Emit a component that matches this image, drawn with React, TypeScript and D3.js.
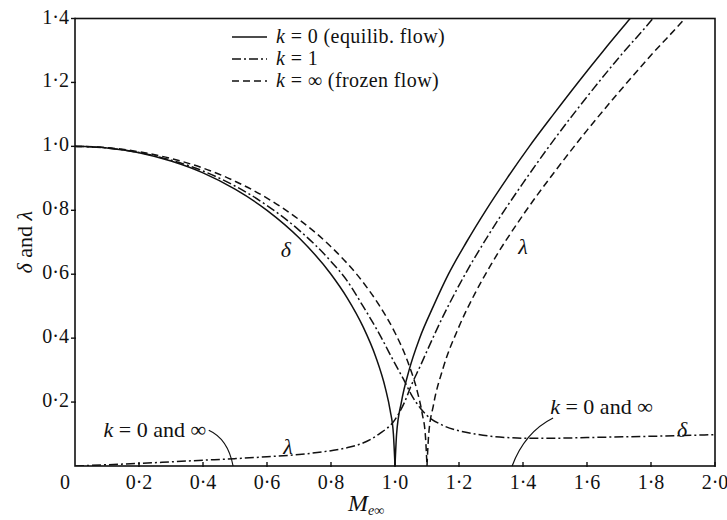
import React from "react";
import * as d3 from "d3";

const W = 727;
const H = 520;
const plot = { left: 75, right: 715, top: 18.5, bottom: 466 };

const xTicks = [0.2, 0.4, 0.6, 0.8, 1.0, 1.2, 1.4, 1.6, 1.8, 2.0];
const xTickLabels = ["0·2", "0·4", "0·6", "0·8", "1·0", "1·2", "1·4", "1·6", "1·8", "2·0"];
const yTicks = [0.2, 0.4, 0.6, 0.8, 1.0, 1.2, 1.4];
const yTickLabels = ["0·2", "0·4", "0·6", "0·8", "1·0", "1·2", "1·4"];

// k = 0 (equilibrium flow)
const deltaK0: [number, number][] = [
  [0, 1.0], [0.1, 0.995], [0.2, 0.98], [0.3, 0.954], [0.4, 0.917], [0.5, 0.866],
  [0.6, 0.8], [0.7, 0.714], [0.8, 0.6], [0.85, 0.527], [0.9, 0.436], [0.94, 0.341],
  [0.97, 0.243], [0.985, 0.173], [0.995, 0.1], [1.0, 0],
];
const lambdaK0: [number, number][] = [
  [1.0, 0], [1.005, 0.1], [1.02, 0.2], [1.044, 0.3], [1.077, 0.4], [1.12, 0.5],
  [1.167, 0.6], [1.223, 0.7], [1.284, 0.8], [1.35, 0.9], [1.42, 1.0], [1.495, 1.1],
  [1.572, 1.2], [1.652, 1.3], [1.735, 1.4], [1.76, 1.43],
];

// k = 1
const deltaK1: [number, number][] = [
  [0, 1.0], [0.1, 0.995], [0.2, 0.981], [0.3, 0.957], [0.4, 0.923], [0.5, 0.876],
  [0.6, 0.815], [0.7, 0.738], [0.8, 0.64], [0.85, 0.58], [0.9, 0.5], [0.95, 0.415],
  [1.0, 0.32], [1.03, 0.265], [1.05, 0.225], [1.08, 0.18], [1.1, 0.158], [1.15, 0.127],
  [1.2, 0.11], [1.25, 0.1], [1.3, 0.093], [1.35, 0.089], [1.4, 0.087], [1.5, 0.087],
  [1.6, 0.089], [1.8, 0.093], [2.0, 0.098],
];
const lambdaK1: [number, number][] = [
  [0, 0], [0.1, 0.004], [0.2, 0.008], [0.3, 0.013], [0.4, 0.018], [0.5, 0.023],
  [0.6, 0.029], [0.7, 0.036], [0.8, 0.048], [0.85, 0.057], [0.9, 0.072], [0.95, 0.1],
  [1.0, 0.145], [1.03, 0.2], [1.05, 0.25], [1.08, 0.315], [1.1, 0.36], [1.15, 0.468],
  [1.2, 0.565], [1.3, 0.735], [1.4, 0.885], [1.5, 1.025], [1.6, 1.155], [1.7, 1.278],
  [1.8, 1.393], [1.83, 1.43],
];

// k = infinity (frozen flow)
const deltaKInf: [number, number][] = [
  [0, 1.0], [0.1, 0.996], [0.2, 0.983], [0.3, 0.962], [0.4, 0.932], [0.5, 0.891],
  [0.6, 0.838], [0.7, 0.771], [0.8, 0.686], [0.9, 0.575], [0.95, 0.504], [1.0, 0.417],
  [1.04, 0.326], [1.07, 0.232], [1.085, 0.164], [1.095, 0.095], [1.1, 0],
];
const lambdaKInf: [number, number][] = [
  [1.1, 0], [1.105, 0.095], [1.12, 0.19], [1.15, 0.305], [1.2, 0.436], [1.25, 0.54],
  [1.3, 0.63], [1.4, 0.785], [1.5, 0.922], [1.6, 1.05], [1.7, 1.17], [1.8, 1.285],
  [1.9, 1.393], [1.95, 1.45],
];

const legendItems = [
  { label: " = 0 (equilib. flow)", dash: "" },
  { label: " = 1", dash: "9,3,2,3" },
  { label: " = ∞ (frozen flow)", dash: "7,4" },
];

const FONT = "'Liberation Serif', 'DejaVu Serif', serif";

export default function App() {
  const x = d3.scaleLinear().domain([0, 2]).range([plot.left, plot.right]);
  const y = d3.scaleLinear().domain([0, 1.4]).range([plot.bottom, plot.top]);
  const line = d3
    .line<[number, number]>()
    .x((d) => x(d[0]))
    .y((d) => y(d[1]))
    .curve(d3.curveMonotoneX);

  const series = [
    { d: deltaK0, dash: "" },
    { d: lambdaK0, dash: "" },
    { d: deltaK1, dash: "9,3,2,3" },
    { d: lambdaK1, dash: "9,3,2,3" },
    { d: deltaKInf, dash: "7,4" },
    { d: lambdaKInf, dash: "7,4" },
  ];

  const stroke = "#111";
  const tickFont = 20;
  const textFont = 22;
  const legendFont = 20;

  const leader = (p0: [number, number], c: [number, number], p1: [number, number]) => {
    const p = d3.path();
    p.moveTo(x(p0[0]), y(p0[1]));
    p.quadraticCurveTo(x(c[0]), y(c[1]), x(p1[0]), y(p1[1]));
    return p.toString();
  };

  return (
    <div style={{ position: "fixed", left: 0, top: 0 }}>
      <svg width={W} height={H} style={{ display: "block", background: "#fff" }} fontFamily={FONT}>
        <defs>
          <clipPath id="plotClip">
            <rect x={plot.left} y={plot.top} width={plot.right - plot.left} height={plot.bottom - plot.top} />
          </clipPath>
        </defs>

        {/* frame */}
        <rect
          x={plot.left}
          y={plot.top}
          width={plot.right - plot.left}
          height={plot.bottom - plot.top}
          fill="none"
          stroke={stroke}
          strokeWidth={1.6}
        />

        {/* x ticks */}
        {xTicks.map((t, i) => (
          <g key={"xt" + i}>
            <line x1={x(t)} x2={x(t)} y1={plot.bottom + 1} y2={plot.bottom - 4} stroke={stroke} strokeWidth={1.4} />
            <text x={x(t)} y={plot.bottom + 23} textAnchor="middle" fontSize={tickFont} fill={stroke}>
              {xTickLabels[i]}
            </text>
          </g>
        ))}
        <text x={plot.left - 10} y={plot.bottom + 23} textAnchor="middle" fontSize={tickFont} fill={stroke}>
          0
        </text>

        {/* y ticks */}
        {yTicks.map((t, i) => (
          <g key={"yt" + i}>
            <line x1={plot.left - 4} x2={plot.left + 1} y1={y(t)} y2={y(t)} stroke={stroke} strokeWidth={1.4} />
            <text x={plot.left - 6} y={y(t) + 5} textAnchor="end" fontSize={tickFont} fill={stroke}>
              {yTickLabels[i]}
            </text>
          </g>
        ))}

        {/* axis titles */}
        <text
          transform={`translate(32, ${y(0.7)}) rotate(-90)`}
          textAnchor="middle"
          fontSize={textFont}
          fill={stroke}
        >
          <tspan fontStyle="italic">δ</tspan> and <tspan fontStyle="italic">λ</tspan>
        </text>
        <text x={348} y={511} fontSize={24} fill={stroke}>
          <tspan fontStyle="italic">M</tspan>
          <tspan fontSize={14} dy={4} fontStyle="italic">e∞</tspan>
        </text>

        {/* curves */}
        <g clipPath="url(#plotClip)">
          {series.map((s, i) => (
            <path
              key={"s" + i}
              d={line(s.d) || ""}
              fill="none"
              stroke={stroke}
              strokeWidth={1.5}
              strokeDasharray={s.dash || undefined}
            />
          ))}
        </g>

        {/* legend */}
        {legendItems.map((it, i) => {
          const cy = 37 + i * 22;
          return (
            <g key={"lg" + i}>
              <line x1={232} x2={267} y1={cy} y2={cy} stroke={stroke} strokeWidth={1.6} strokeDasharray={it.dash || undefined} />
              <text x={276} y={cy + 6} fontSize={legendFont} letterSpacing={0.4} fill={stroke}>
                <tspan fontStyle="italic">k</tspan>
                {it.label}
              </text>
            </g>
          );
        })}

        {/* curve labels */}
        <text x={x(0.659)} y={y(0.675) + 7} fontSize={textFont} fontStyle="italic" textAnchor="middle" fill={stroke}>δ</text>
        <text x={x(0.666)} y={y(0.056) + 6} fontSize={textFont} fontStyle="italic" textAnchor="middle" fill={stroke}>λ</text>
        <text x={x(1.4)} y={y(0.684) + 7} fontSize={textFont} fontStyle="italic" textAnchor="middle" fill={stroke}>λ</text>
        <text x={x(1.897)} y={y(0.1125) + 7} fontSize={textFont} fontStyle="italic" textAnchor="middle" fill={stroke}>δ</text>

        {/* annotations */}
        <text x={x(0.41)} y={y(0.1125) + 7} fontSize={textFont} textAnchor="end" fill={stroke}>
          <tspan fontStyle="italic">k</tspan> = 0 and ∞
        </text>
        <path d={leader([0.418, 0.112], [0.478, 0.085], [0.494, 0])} fill="none" stroke={stroke} strokeWidth={1.2} />
        <text x={x(1.485)} y={y(0.185) + 7} fontSize={textFont} textAnchor="start" fill={stroke}>
          <tspan fontStyle="italic">k</tspan> = 0 and ∞
        </text>
        <path d={leader([1.494, 0.15], [1.406, 0.106], [1.366, 0])} fill="none" stroke={stroke} strokeWidth={1.2} />
      </svg>
    </div>
  );
}
